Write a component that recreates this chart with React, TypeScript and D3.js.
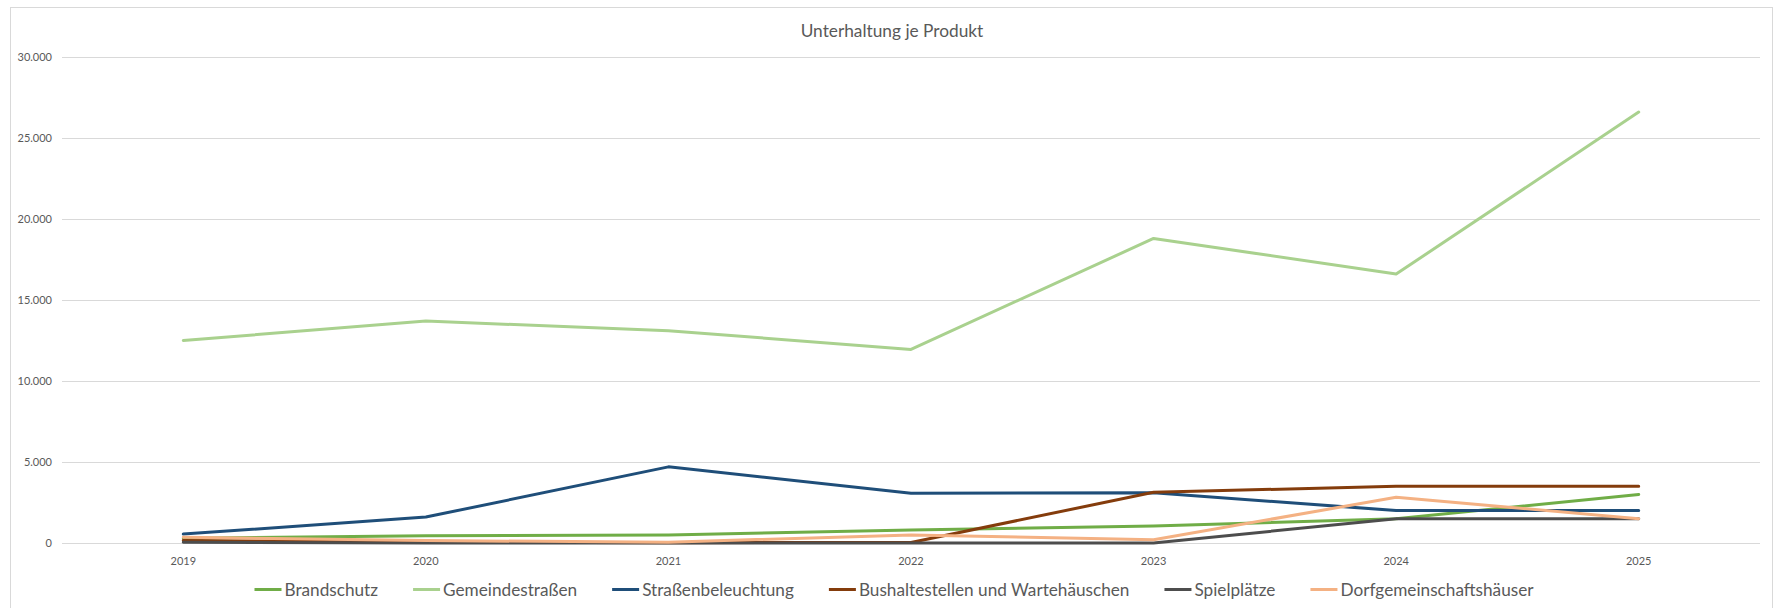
import React, { useEffect, useRef } from "react";
import * as d3 from "d3";

const years = ["2019", "2020", "2021", "2022", "2023", "2024", "2025"];
const seriesNames = [
  "Brandschutz",
  "Gemeindestraßen",
  "Straßenbeleuchtung",
  "Bushaltestellen und Wartehäuschen",
  "Spielplätze",
  "Dorfgemeinschaftshäuser",
];
const brandschutz = [300, 450, 500, 800, 1050, 1500, 3000];
const gemeindestrassen = [12500, 13700, 13100, 11950, 18800, 16600, 26600];
const strassenbeleuchtung = [550, 1600, 4700, 3070, 3100, 2000, 2000];
const bushaltestellen = [150, 50, 20, 30, 3130, 3500, 3500];
const spielplaetze = [50, 0, 0, 0, 0, 1500, 1500];
const dorfgemeinschaftshaeuser = [350, 150, 50, 500, 200, 2820, 1500];
const seriesValues = [
  brandschutz,
  gemeindestrassen,
  strassenbeleuchtung,
  bushaltestellen,
  spielplaetze,
  dorfgemeinschaftshaeuser,
];
const seriesColors = ["#70AD47", "#A9D18E", "#1F4E79", "#843C0C", "#4D4D4D", "#F4B183"];
const yTicks = [0, 5000, 10000, 15000, 20000, 25000, 30000];
const title = "Unterhaltung je Produkt";

const W = 1774;
const H = 608;
const FONT = "Lato, 'Open Sans', sans-serif";
const TEXT = "#595959";

export default function App() {
  const ref = useRef<SVGSVGElement | null>(null);

  useEffect(() => {
    const svg = d3.select(ref.current);
    svg.selectAll("*").remove();

    const x = d3.scaleBand<string>().domain(years).range([62, 1760]).padding(0);
    const y = d3.scaleLinear().domain([0, 30000]).range([543, 57]);
    const cx = (d: string) => (x(d) as number) + x.bandwidth() / 2;
    const de = d3.formatLocale({ decimal: ",", thousands: ".", grouping: [3], currency: ["", "€"] });
    const fmt = de.format(",d");

    svg.append("rect").attr("x", 0).attr("y", 0).attr("width", W).attr("height", H).attr("fill", "#fff");
    svg
      .append("rect")
      .attr("x", 10.5)
      .attr("y", 7.5)
      .attr("width", 1762)
      .attr("height", 640)
      .attr("fill", "none")
      .attr("stroke", "#D9D9D9")
      .attr("stroke-width", 1);

    // title
    svg
      .append("text")
      .attr("x", 892)
      .attr("y", 37)
      .attr("text-anchor", "middle")
      .attr("font-family", FONT)
      .attr("font-size", 17.3)
      .attr("fill", TEXT)
      .text(title);

    // gridlines
    const grid = svg.append("g");
    grid
      .selectAll("line")
      .data(yTicks)
      .join("line")
      .attr("x1", 62)
      .attr("x2", 1760)
      .attr("y1", (d) => Math.round(y(d)) + 0.5)
      .attr("y2", (d) => Math.round(y(d)) + 0.5)
      .attr("stroke", "#D9D9D9")
      .attr("stroke-width", 1);

    // y labels
    svg
      .append("g")
      .selectAll("text")
      .data(yTicks)
      .join("text")
      .attr("x", 52)
      .attr("y", (d) => y(d))
      .attr("dy", "0.35em")
      .attr("text-anchor", "end")
      .attr("font-family", FONT)
      .attr("font-size", 11)
      .attr("fill", TEXT)
      .text((d) => fmt(d));

    // x labels
    svg
      .append("g")
      .selectAll("text")
      .data(years)
      .join("text")
      .attr("x", (d) => cx(d))
      .attr("y", 565)
      .attr("text-anchor", "middle")
      .attr("font-family", FONT)
      .attr("font-size", 11)
      .attr("fill", TEXT)
      .text((d) => d);

    // lines
    const line = d3
      .line<number>()
      .x((_, i) => cx(years[i]))
      .y((d) => y(d));
    const lg = svg.append("g");
    seriesValues.forEach((vals, i) => {
      lg.append("path")
        .attr("d", line(vals) as string)
        .attr("fill", "none")
        .attr("stroke", seriesColors[i])
        .attr("stroke-width", 3)
        .attr("stroke-linejoin", "round")
        .attr("stroke-linecap", "round");
    });

    // legend
    const leg = svg.append("g");
    const items = seriesNames.map((name, i) => {
      const g = leg.append("g");
      g.append("line")
        .attr("x1", 0)
        .attr("x2", 27)
        .attr("y1", 589.5)
        .attr("y2", 589.5)
        .attr("stroke", seriesColors[i])
        .attr("stroke-width", 3);
      const t = g
        .append("text")
        .attr("x", 30)
        .attr("y", 596)
        .attr("font-family", FONT)
        .attr("font-size", 17.2)
        .attr("fill", TEXT)
        .text(name);
      const w = (t.node() as SVGTextElement).getComputedTextLength();
      return { g, w: 30 + w };
    });
    const gap = 35;
    const total = d3.sum(items, (d) => d.w) + gap * (items.length - 1);
    let pos = 894 - total / 2;
    items.forEach((it) => {
      it.g.attr("transform", `translate(${pos},0)`);
      pos += it.w + gap;
    });
  }, []);

  return (
    <svg
      ref={ref}
      width={W}
      height={H}
      style={{ position: "absolute", left: 0, top: 0, display: "block" }}
    />
  );
}
